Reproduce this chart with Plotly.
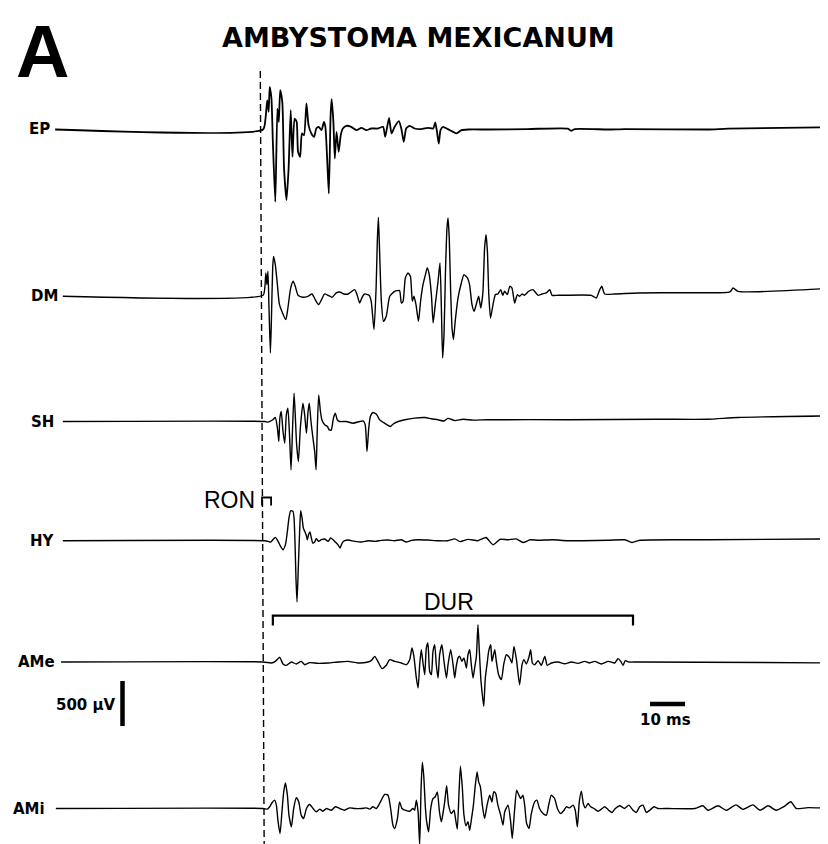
import plotly.graph_objects as go

# ---------------- data (time in ms from onset line, amplitude in microvolts) -------------
CHANNELS = ["EP", "DM", "SH", "HY", "AMe", "AMi"]

EP = [(-59.1, 0), (0.3, 0), (1.0, 122), (1.5, 326), (1.9, 196), (2.2, 474), (2.7, 344),
      (3.1, -137), (3.8, -804), (4.4, 233), (4.8, 85), (5.2, 437), (5.8, 307), (6.3, -433),
      (7.0, -785), (7.6, -433), (8.2, 215), (8.7, -304), (9.3, 122), (9.9, 85), (10.3, -248),
      (10.9, -304), (11.4, -44), (12.0, -63), (12.7, 289), (13.3, 48), (14.1, -44), (14.9, -81),
      (15.5, 11), (16.2, 30), (17.0, -7), (17.7, 85), (18.1, 30), (18.7, -396), (19.1, -711),
      (19.6, 159), (19.9, 337), (20.4, 85), (20.8, -322), (21.3, -26), (21.9, -248), (22.5, -63),
      (23.1, 11), (24.1, 41), (25.5, 30), (27.0, -7), (28.4, 19), (29.8, -7), (31.2, 11),
      (33.1, 11), (34.6, 30), (35.2, -81), (36.3, 130), (37.0, -44), (37.9, 30), (39.1, 93),
      (39.8, 11), (40.5, -137), (41.2, 11), (42.2, 41), (43.6, 11), (45.5, 4), (47.4, 19),
      (48.9, 11), (49.5, 78), (50.0, -26), (50.5, -156), (51.0, -7), (51.7, 30), (53.1, 4),
      (54.6, -26), (55.5, -44), (57.0, -7), (58.9, 0), (64.6, 0), (76.0, 5), (87.4, 10),
      (88.3, -15), (89.4, 5), (98.9, 0), (103.7, 5), (127.4, 0), (133.1, 10), (164.0, 25)]

DM = [(-56.9, 0), (0.3, 11), (0.8, 93), (1.1, 259), (1.4, 130), (1.7, 278), (2.0, -130),
      (2.4, -630), (2.7, -241), (3.05, 315), (3.3, 444), (3.8, 352), (4.4, 130), (5.0, -93),
      (6.8, -259), (7.4, -130), (8.2, 93), (8.9, 167), (9.5, 111), (10.3, 11), (11.7, -11),
      (13.1, 0), (14.3, 26), (15.2, -37), (16.2, -93), (17.0, -37), (17.9, 26), (18.9, 11),
      (20.0, -11), (21.2, 37), (22.2, 48), (23.4, 26), (24.6, 26), (26.5, 74), (27.2, 11),
      (27.9, -74), (28.6, -11), (29.3, 26), (30.6, 11), (31.2, -56), (32.0, -370), (32.6, 93),
      (32.95, 611), (33.25, 878), (33.6, 500), (34.1, -56), (34.7, -278), (35.5, -222),
      (36.5, 0), (37.9, 56), (39.3, 63), (39.8, -74), (40.3, -56), (40.95, 204), (41.7, 259),
      (42.4, 222), (42.95, -56), (43.4, 0), (44.0, -93), (44.7, -278), (45.3, -56), (46.0, 130),
      (46.7, 241), (47.2, 315), (47.7, 259), (48.4, 19), (48.9, -296), (49.5, -93), (50.3, 167),
      (50.85, 370), (51.25, -130), (51.6, -685), (52.0, -426), (52.4, 241), (52.85, 759),
      (53.15, 870), (53.5, 648), (53.9, 56), (54.3, -352), (54.7, -481), (55.2, -278),
      (56.0, -19), (56.95, 148), (57.7, 241), (58.7, 204), (59.3, 130), (60.0, -93),
      (60.6, -167), (61.2, -93), (61.9, 0), (62.5, -130), (63.1, 37), (63.6, 537), (64.0, 685),
      (64.4, 500), (64.8, 19), (65.3, -241), (66.0, -93), (66.7, 19), (67.4, 26), (68.2, 74),
      (68.8, 11), (69.3, 56), (70.1, 19), (70.8, 111), (71.4, 93), (72.2, -74), (72.95, 19),
      (73.6, 0), (74.3, 26), (75.0, 11), (76.2, 56), (77.4, 74), (78.9, 11), (80.0, 26),
      (81.2, 37), (82.2, 74), (82.9, 11), (84.6, 11), (94.1, 11), (95.5, -19), (96.5, 74),
      (97.1, 111), (97.9, 26), (100.8, 26), (107.4, 37), (120.0, 40), (133.7, 50), (134.6, 92),
      (136.0, 55), (164.0, 92)]

SH = [(-56.9, 0), (0.8, 0), (1.7, -7), (3.1, 19), (3.8, 44), (4.4, -74), (4.8, -222),
      (5.1, 37), (5.5, 111), (6.0, -111), (6.5, -241), (6.95, 74), (7.4, 148), (7.9, -185),
      (8.3, -537), (8.7, -111), (9.15, 315), (9.5, 74), (9.9, -259), (10.4, -444), (10.95, -74),
      (11.7, 204), (12.2, 74), (12.7, -130), (13.15, 111), (13.5, 204), (14.0, 0), (14.5, -167),
      (15.05, -333), (15.45, -537), (15.8, -74), (16.2, 296), (16.7, 111), (17.1, 19),
      (17.9, -37), (18.7, -56), (19.2, -93), (19.8, -93), (20.4, 37), (20.95, 93), (21.5, 19),
      (22.2, 0), (24.1, 0), (26.0, -19), (27.9, 0), (28.9, 7), (29.5, -37), (30.0, -333),
      (30.5, -74), (30.95, 56), (31.7, 100), (32.7, 81), (33.6, 19), (35.0, -19), (36.7, -56),
      (37.4, -30), (38.9, 0), (40.8, 19), (43.6, 37), (46.5, 44), (48.4, 30), (50.3, 19),
      (52.0, 5), (53.1, 35), (55.1, 10), (57.4, 25), (60.3, 15), (64.6, 20), (87.4, 20),
      (113.0, 25), (127.4, 25), (136.0, 45), (164.0, 63)]

HY = [(-56.9, 0), (0.8, 0), (1.7, -7), (2.5, -15), (3.1, 11), (3.8, 37), (4.6, -7),
      (5.3, -63), (6.0, -100), (6.7, -44), (7.25, 104), (7.7, 252), (8.2, 333), (8.85, 326),
      (9.15, 252), (9.45, -44), (9.7, -415), (10.0, -681), (10.4, -267), (10.75, 104),
      (11.05, 333), (11.45, 252), (11.8, 141), (12.2, 104), (12.6, 67), (12.95, 11), (13.3, 67),
      (13.7, 96), (14.1, 30), (14.5, -26), (15.05, -15), (15.5, 22), (16.2, -7), (16.95, 11),
      (17.9, 19), (18.9, -7), (19.6, 30), (20.3, 11), (20.95, -15), (21.7, -44), (22.3, -81),
      (22.9, -26), (23.6, 0), (24.6, 7), (26.5, -7), (28.4, -15), (30.3, 0), (32.2, -7),
      (34.1, 4), (36.0, 7), (37.9, 0), (39.8, 11), (41.2, -15), (42.7, 4), (44.6, 11),
      (47.4, 7), (50.3, 0), (53.1, 0), (55.1, 20), (56.6, -10), (58.9, 15), (61.7, 0),
      (64.0, 35), (66.0, -45), (68.0, 15), (70.3, 10), (72.6, 20), (74.6, -20), (76.6, 10),
      (78.9, 5), (83.1, 10), (87.4, 0), (98.9, 5), (103.7, 10), (105.7, -20), (108.0, 5),
      (127.4, 10), (164.0, 20)]

AME = [(-57.4, 0), (0.3, 0), (2.7, -11), (3.8, 7), (5.05, 52), (6.0, -22), (6.95, -37),
       (8.4, 0), (9.8, -22), (11.2, 7), (12.2, -30), (13.6, -7), (16.0, -15), (18.9, -11),
       (21.7, 0), (24.6, 7), (27.4, -11), (30.3, 0), (31.2, 15), (32.2, 63), (33.1, 7),
       (34.3, -74), (35.5, -37), (36.5, 26), (37.9, 7), (39.8, -11), (41.2, -30), (42.2, 26),
       (42.85, 156), (43.4, 63), (44.1, -178), (44.6, -289), (45.05, -30), (45.5, 137),
       (46.0, -11), (46.5, -141), (46.95, 156), (47.4, 211), (47.9, -104), (48.4, -141),
       (48.85, 119), (49.35, 193), (49.8, -30), (50.3, -178), (50.75, 81), (51.4, 193),
       (52.0, 7), (52.7, -178), (53.15, -30), (53.9, 137), (54.6, -30), (55.05, -178),
       (55.5, -48), (56.0, 44), (56.5, 63), (57.1, 7), (57.7, 44), (58.4, -67), (58.85, 81),
       (59.35, 137), (59.8, -30), (60.3, -178), (60.75, -67), (61.25, 63), (61.7, 415),
       (62.1, 119), (62.5, -178), (62.85, -326), (63.35, -493), (63.8, -178), (64.4, 7),
       (64.75, 119), (65.35, 193), (65.7, 7), (66.5, 137), (66.95, 7), (67.6, -141),
       (68.4, -196), (69.05, -30), (69.8, 81), (70.8, 44), (71.4, -11), (72.0, 174),
       (72.7, 26), (73.6, -252), (74.3, -30), (74.85, 26), (75.5, -22), (76.2, 44),
       (76.75, 137), (77.25, -11), (77.9, -30), (78.9, 15), (79.8, -37), (80.8, 63),
       (81.5, -37), (82.7, -11), (84.6, 0), (86.5, -19), (88.4, 0), (90.3, -15), (92.2, 7),
       (93.6, -11), (95.05, 7), (96.95, -22), (98.9, 7), (100.8, -11), (101.7, 37), (102.5, 7),
       (103.15, -37), (103.8, 15), (104.8, 0), (107.4, 0), (164.0, -10)]

AMI = [(-58.9, 0), (0.3, 0), (1.5, -7), (2.2, 19), (2.9, 67), (3.6, 93), (4.1, 37),
       (4.6, -148), (5.15, -278), (5.7, -37), (6.2, 185), (6.7, 285), (7.25, 148), (7.7, -74),
       (8.4, -204), (9.05, 0), (9.8, 119), (10.5, 74), (11.2, -74), (11.9, -111), (12.7, 0),
       (13.6, 44), (14.6, 0), (15.5, -37), (16.5, -7), (17.4, -30), (18.4, 0), (19.8, -19),
       (20.95, 19), (22.2, 0), (23.6, -19), (25.05, 7), (26.5, 0), (28.4, 0), (29.8, 7),
       (30.8, -7), (31.7, 19), (32.7, 0), (33.6, 56), (35.05, 156), (36.0, 148), (36.75, 0),
       (37.4, -185), (37.9, -222), (38.7, -111), (39.3, 74), (40.0, 0), (40.8, -19),
       (42.2, -30), (43.1, 0), (43.6, -19), (44.1, 93), (44.6, -37), (45.05, -407),
       (45.45, 222), (45.8, 511), (46.2, 370), (46.7, 0), (47.05, -148), (47.6, -259),
       (48.2, 0), (48.85, 111), (49.5, 130), (50.1, 185), (50.7, -37), (51.25, -148),
       (51.7, -56), (52.2, 74), (52.75, 252), (53.3, 37), (54.1, -56), (54.85, -19),
       (55.35, -130), (55.8, -230), (56.3, 185), (56.7, 470), (57.25, 222), (57.7, -74),
       (58.3, -193), (58.85, -148), (59.35, -241), (59.8, -130), (60.4, 37), (60.95, 259),
       (61.45, 407), (61.9, 296), (62.4, 241), (62.95, 37), (63.6, -111), (64.3, 37),
       (65.05, 148), (65.7, 74), (66.2, 185), (66.75, 167), (67.4, 37), (68.2, -74),
       (68.85, -185), (69.35, -37), (70.3, 37), (71.05, -148), (71.5, -333), (72.2, 0),
       (72.75, 204), (73.4, 148), (73.9, 111), (74.55, 148), (75.05, 37), (75.6, -167),
       (76.3, -222), (76.95, -56), (77.9, 74), (78.55, 93), (79.3, 0), (80.3, -56),
       (81.25, -74), (81.9, 37), (82.65, 148), (83.6, 111), (84.4, 0), (85.3, -56),
       (86.3, -19), (86.95, 19), (87.9, 7), (88.85, 37), (89.5, -19), (90.1, -204),
       (90.65, 74), (91.25, 193), (91.8, 56), (92.4, 7), (93.15, 56), (93.9, 19), (94.85, 0),
       (96.0, -30), (96.95, -7), (97.9, 19), (99.05, -19), (100.0, -44), (100.95, 0),
       (102.2, 30), (103.6, 0), (104.8, 37), (106.0, -19), (106.95, -44), (107.9, 19),
       (108.85, 37), (109.8, -44), (110.8, -19), (112.0, 19), (113.1, 0), (116.0, 0),
       (123.7, 0), (126.0, 30), (127.4, -20), (130.3, 30), (132.6, -20), (135.4, 40),
       (137.4, -10), (140.3, 40), (142.3, -20), (144.6, 30), (146.9, -20), (149.1, 20),
       (151.1, 75), (152.6, 0), (156.0, 10), (164.0, 0)]

SERIES = [EP, DM, SH, HY, AME, AMI]

SCALE_UV = 500      # vertical calibration bar
SCALE_MS = 10       # horizontal calibration bar
DUR_MS = (3.1, 106.0)   # duration bracket (AMe)
RON_MS = (0.0, 2.6)     # relative onset marker (HY)

# ---------------- layout geometry ----------------
W, H = 828, 844
PX_PER_MS = 3.5
UV_PER_PX = 500 / 45.0
ONSET_PX = 254
BASE_ROWS_PX = [121.5, 288.3, 413.5, 532.7, 654.0, 800.5]
LABEL_RIGHT_PX = [44, 52, 48, 49, 49, 39]
LINE_W = [1.8, 1.4, 1.4, 1.4, 1.4, 1.4]


def ms(px):
    return (px - ONSET_PX) / PX_PER_MS


def uv(py):
    return -py * UV_PER_PX


def paper(px, py):
    return px / W, 1 - py / H


fig = go.Figure()

for name, s, row, lw in zip(CHANNELS, SERIES, BASE_ROWS_PX, LINE_W):
    off = uv(row)
    fig.add_trace(go.Scatter(
        x=[p[0] for p in s], y=[p[1] + off for p in s], mode="lines", name=name,
        line=dict(color="black", width=lw, shape="spline", smoothing=0.55),
        hoverinfo="skip"))

# dashed onset line
fig.add_trace(go.Scatter(x=[ms(252.3), ms(256.2)], y=[uv(63), uv(844)], mode="lines",
                         line=dict(color="black", width=1.4, dash="7px,4px"), hoverinfo="skip"))

# calibration bars
bar_x = ms(114.5)
fig.add_trace(go.Scatter(x=[bar_x, bar_x], y=[uv(673), uv(673) - SCALE_UV], mode="lines",
                         line=dict(color="black", width=4.5), hoverinfo="skip"))
fig.add_trace(go.Scatter(x=[ms(642), ms(642) + SCALE_MS], y=[uv(696), uv(696)], mode="lines",
                         line=dict(color="black", width=4.5), hoverinfo="skip"))

# DUR bracket
dy_top, dy_leg = uv(607.7), uv(617.5)
fig.add_trace(go.Scatter(x=[DUR_MS[0], DUR_MS[0], DUR_MS[1], DUR_MS[1]],
                         y=[dy_leg, dy_top, dy_top, dy_leg], mode="lines",
                         line=dict(color="black", width=2.2), hoverinfo="skip"))
# RON marker
ry_top, ry_leg = uv(489.5), uv(497.5)
fig.add_trace(go.Scatter(x=[RON_MS[0], RON_MS[0], RON_MS[1], RON_MS[1]],
                         y=[ry_leg, ry_top, ry_top, ry_leg], mode="lines",
                         line=dict(color="black", width=1.8), hoverinfo="skip"))

ann = []


def add_text(text, px, py, size, xanchor="center", yanchor="middle",
             family="DejaVu Sans", bold=True):
    x, y = paper(px, py)
    ann.append(dict(text=f"<b>{text}</b>" if bold else text, x=x, y=y, xref="paper",
                    yref="paper", xanchor=xanchor, yanchor=yanchor, showarrow=False,
                    font=dict(family=family, size=size, color="black")))


add_text("A", 34, 0, 74, yanchor="top", family="Liberation Sans")
add_text("AMBYSTOMA MEXICANUM", 410, 30, 27)
for name, row, rx in zip(CHANNELS, BASE_ROWS_PX, LABEL_RIGHT_PX):
    add_text(name, rx, row, 15, xanchor="right")
add_text("500 µV", 110, 697, 15, xanchor="right")
add_text("10 ms", 657, 712, 15)
add_text("RON", 249, 492, 23, xanchor="right", family="Liberation Sans", bold=False)
add_text("DUR", 441, 594, 23, family="Liberation Sans", bold=False)

fig.update_layout(
    width=W, height=H, margin=dict(l=0, r=0, t=0, b=0),
    paper_bgcolor="white", plot_bgcolor="white", showlegend=False,
    xaxis=dict(range=[ms(0), ms(W)], visible=False, fixedrange=True),
    yaxis=dict(range=[uv(H), uv(0)], visible=False, fixedrange=True),
    annotations=ann,
)

fig.write_html("out.html")
